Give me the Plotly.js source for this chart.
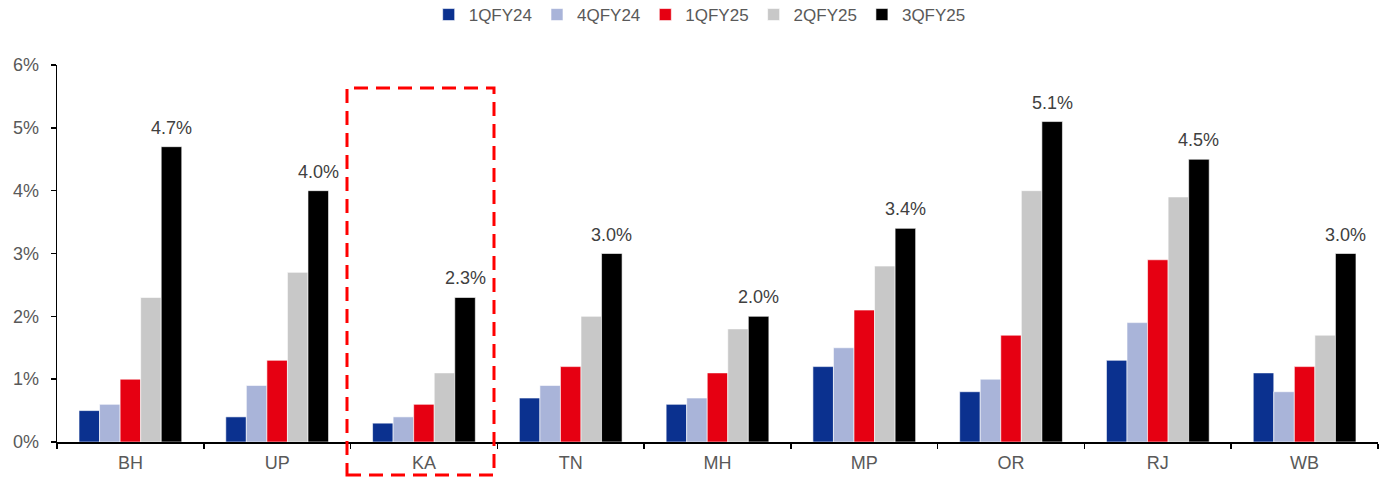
<!DOCTYPE html>
<html>
<head>
<meta charset="utf-8">
<script src="https://cdn.plot.ly/plotly-3.0.1.min.js"></script>
<style>html,body{margin:0;padding:0;background:#fff;}#chart{width:1391px;height:482px;}</style>
</head>
<body>
<div id="chart"></div>
<script>
const categories = ["BH", "UP", "KA", "TN", "MH", "MP", "OR", "RJ", "WB"];
const seriesNames = ["1QFY24", "4QFY24", "1QFY25", "2QFY25", "3QFY25"];
const s1QFY24 = [0.5, 0.4, 0.3, 0.7, 0.6, 1.2, 0.8, 1.3, 1.1];
const s4QFY24 = [0.6, 0.9, 0.4, 0.9, 0.7, 1.5, 1.0, 1.9, 0.8];
const s1QFY25 = [1.0, 1.3, 0.6, 1.2, 1.1, 2.1, 1.7, 2.9, 1.2];
const s2QFY25 = [2.3, 2.7, 1.1, 2.0, 1.8, 2.8, 4.0, 3.9, 1.7];
const s3QFY25 = [4.7, 4.0, 2.3, 3.0, 2.0, 3.4, 5.1, 4.5, 3.0];
const yTickVals = [0, 1, 2, 3, 4, 5, 6];
const yTickText = ["0%", "1%", "2%", "3%", "4%", "5%", "6%"];

const colors = ["#0B318F", "#A9B4D9", "#E60012", "#C8C8C8", "#000000"];
const allSeries = [s1QFY24, s4QFY24, s1QFY25, s2QFY25, s3QFY25];
const bargap = 0.3;

const traces = allSeries.map((vals, i) => ({
  type: "bar",
  name: seriesNames[i],
  x: categories,
  y: vals,
  marker: {color: colors[i], line: {color: "#ffffff", width: 0.6}},
  hoverinfo: "x+y+name"
}));

// value labels above the last series' bars, placed through the category axis
const nS = allSeries.length;
const barW = (1 - bargap) / nS;
const lastOffset = -(1 - bargap) / 2 + barW * (nS - 0.5);
const labelAnnotations = s3QFY25.map((v, k) => ({
  xref: "x", yref: "y",
  x: k + lastOffset, y: v,
  text: v.toFixed(1) + "%",
  showarrow: false,
  xanchor: "center", yanchor: "bottom",
  yshift: 7,
  font: {family: "Liberation Sans, Arial, sans-serif", size: 18, color: "#404040"}
}));

const L = 57, R = 13, T = 65, B = 40, W = 1391, H = 482;
const pw = W - L - R, ph = H - T - B;
const px = x => (x - L) / pw;
const py = y => (H - B - y) / ph;

const layout = {
  width: W, height: H,
  margin: {l: L, r: R, t: T, b: B, autoexpand: false},
  paper_bgcolor: "#ffffff",
  plot_bgcolor: "#ffffff",
  barmode: "group",
  bargap: bargap,
  bargroupgap: 0,
  font: {family: "Liberation Sans, Arial, sans-serif", size: 16, color: "#595959"},
  showlegend: true,
  legend: {
    orientation: "h",
    xref: "container", yref: "container",
    x: 0.503, xanchor: "center",
    y: 1 - 15 / H, yanchor: "middle",
    font: {size: 17, color: "#595959"},
    itemwidth: 30,
    tracegroupgap: 0,
    traceorder: "normal"
  },
  xaxis: {
    type: "category",
    showline: true, linecolor: "#000000", linewidth: 1.5,
    ticks: "outside", ticklen: 5, tickcolor: "#000000", tickwidth: 1.5,
    tickson: "boundaries",
    ticklabelstandoff: 4,
    showgrid: false, zeroline: false,
    tickfont: {size: 18, color: "#595959"}
  },
  yaxis: {
    range: [0, 6],
    tickvals: yTickVals, ticktext: yTickText,
    showline: true, linecolor: "#000000", linewidth: 1.5,
    ticks: "outside", ticklen: 5, tickcolor: "#000000", tickwidth: 1.5,
    ticklabelstandoff: 8,
    showgrid: false, zeroline: false,
    tickfont: {size: 18, color: "#595959"}
  },
  annotations: labelAnnotations,
  shapes: [{
    type: "rect",
    xref: "paper", yref: "paper",
    x0: px(347), x1: px(494),
    y0: py(475), y1: py(88),
    line: {color: "#FF0000", width: 3, dash: "14px,8px"},
    fillcolor: "rgba(0,0,0,0)",
    layer: "above"
  }]
};

Plotly.newPlot("chart", traces, layout, {displayModeBar: false, staticPlot: true});
</script>
</body>
</html>
